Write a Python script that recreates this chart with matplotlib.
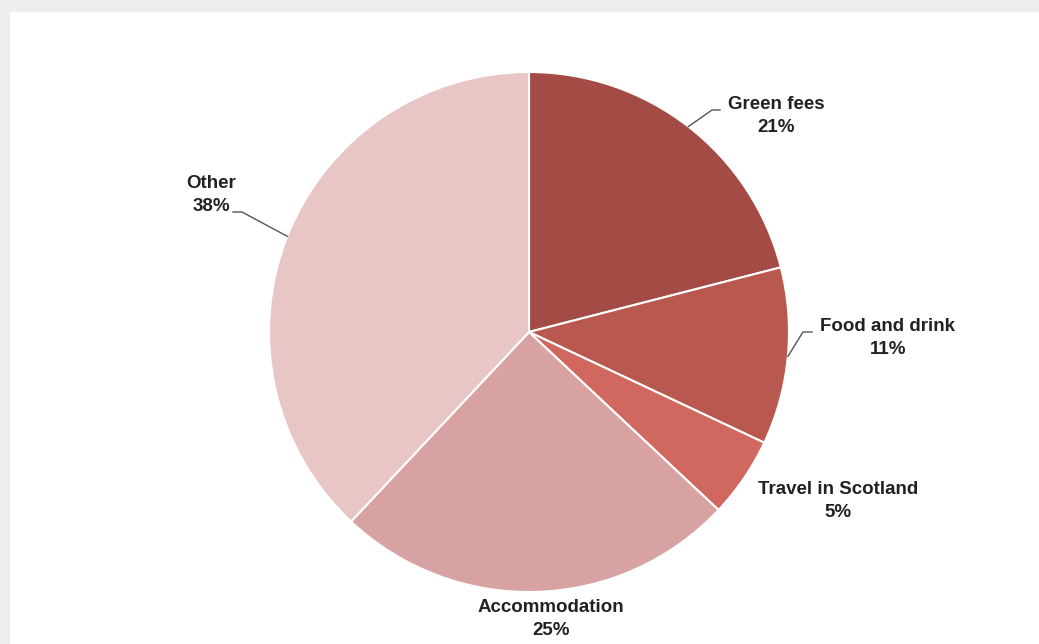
import numpy as np
import matplotlib.pyplot as plt
from matplotlib.patches import Rectangle

# spending shares (%)
categories = ["Green fees", "Food and drink", "Travel in Scotland", "Accommodation", "Other"]
shares = [21, 11, 5, 25, 38]
colors = ["#a44b45", "#b9584f", "#d06860", "#d9a2a2", "#e8c6c5"]

# label centres in pixel coords, and leader line elbow / end points
label_pos = [(776, 116), (888, 338), (838, 501), (551, 619), (211, 195)]
elbows = [(712, 110), (803, 332), None, None, (242, 212)]
ends = [(720, 110), (812, 332), None, None, (233, 212)]

W, H = 1039, 644
fig = plt.figure(figsize=(W / 100, H / 100), dpi=100)
fig.patch.set_facecolor("#eeeeee")
ax = fig.add_axes([0, 0, 1, 1])

# card background
ax.add_patch(Rectangle((10, 0), W - 10, H - 12, facecolor="white", edgecolor="none", zorder=0))
ax.add_patch(Rectangle((0, 0), W, H, facecolor="#eeeeee", edgecolor="none", zorder=-1))

cx, cy, r = 529, H - 332, 260
wedges, _ = ax.pie(shares, colors=colors, startangle=90, counterclock=False,
                   center=(cx, cy), radius=r, frame=True,
                   wedgeprops=dict(edgecolor="white", linewidth=1.5))
ax.set_xlim(0, W)
ax.set_ylim(0, H)
ax.set_aspect("equal")
ax.axis("off")

def flip(p):
    return p[0], H - p[1]

for i, (name, val) in enumerate(zip(categories, shares)):
    w = wedges[i]
    mid = np.deg2rad((w.theta1 + w.theta2) / 2)
    lx, ly = flip(label_pos[i])
    ax.text(lx, ly, f"{name}\n{val}%", ha="center", va="center", fontsize=13.5,
            fontweight="bold", family="Liberation Sans", color="#222222",
            linespacing=1.45)
    if elbows[i] is not None:
        sx, sy = cx + r * np.cos(mid), cy + r * np.sin(mid)
        ex, ey = flip(elbows[i])
        fx, fy = flip(ends[i])
        ax.plot([sx, ex, fx], [sy, ey, fy], color="#555555", lw=1.0)

fig.savefig("out.png", dpi=100, facecolor=fig.get_facecolor())
